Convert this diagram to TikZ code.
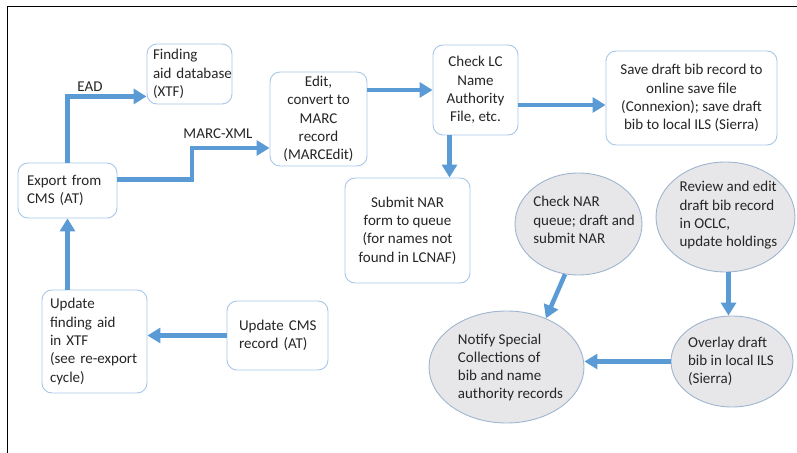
\documentclass[tikz,border=0pt]{standalone}
\usepackage{fontspec}
\setmainfont{Carlito}
\usetikzlibrary{shapes.geometric,arrows.meta}
\definecolor{arrc}{HTML}{5B9BD5}
\definecolor{boxc}{HTML}{A7C7E7}
\definecolor{ellf}{HTML}{E7E7E9}
\definecolor{ellc}{HTML}{9FB4CF}
\definecolor{txtc}{HTML}{262626}
\newcommand\dfont{\fontsize{15bp}{18.3bp}\selectfont}
\tikzset{
  box/.style={draw=boxc, line width=0.9bp, rounded corners=10bp, fill=white, font=\dfont, text=txtc},
  cbox/.style={box, align=center, inner sep=0pt},
  lbox/.style={box, align=left, inner ysep=0pt},
  ell/.style={ellipse, draw=ellc, fill=ellf, line width=0.9bp, inner sep=0pt},
  etext/.style={align=left, font=\dfont, text=txtc, inner sep=0pt},
  lab/.style={font=\dfont, text=txtc, inner sep=0pt},
  arr/.style={draw=arrc, line width=4.5bp, -{Triangle[width=15bp,length=13bp]}},
}
\begin{document}
\begin{tikzpicture}[x=1bp,y=-1bp]
\useasboundingbox (0,0) rectangle (797,453);
\draw[line width=1.5bp] (7.5,460) -- (7.5,6.5) -- (805,6.5);

% boxes
\node[lbox, minimum height=55bp, text width=81bp, inner xsep=9bp] (export) at (67.5,190.5) {Export from\\CMS (AT)};
\node[lbox, minimum height=60bp, text width=73bp, inner xsep=6bp] (finding) at (189.5,74) {Finding\\aid~database\\(XTF)};
\node[cbox, minimum width=97bp, minimum height=94bp] (edit) at (318.5,119) {Edit,\\convert to\\MARC\\record\\(MARCEdit)};
\node[cbox, minimum width=85bp, minimum height=90bp] (check) at (475.5,90) {Check LC\\Name\\Authority\\File, etc.};
\node[cbox, minimum width=171bp, minimum height=94bp] (save) at (691.5,98) {Save draft bib record to\\online save file\\(Connexion); save draft\\bib to local ILS (Sierra)};
\node[cbox, minimum width=125bp, minimum height=105bp] (submit) at (407.5,230.5) {Submit NAR\\form to queue\\(for names not\\found in LCNAF)};
\node[lbox, minimum height=103bp, text width=89bp, inner xsep=8bp] (updfa) at (94.5,341.5) {Update\\finding~aid\\in XTF\\(see~re-export\\cycle)};
\node[lbox, minimum height=69bp, text width=77bp, inner xsep=12bp] (updcms) at (277.5,335.5) {Update~CMS\\record~(AT)};

% ellipses
\node[ell, minimum width=127bp, minimum height=102bp] (nar) at (578.5,224) {};
\node[etext] (nartext) at (584,220) {Check NAR\\queue; draft and\\submit NAR};
\node[ell, minimum width=139bp, minimum height=110bp] (review) at (725.5,217) {};
\node[etext] (reviewtext) at (728.5,215.5) {Review and edit\\draft bib record\\in OCLC,\\update holdings};
\node[ell, minimum width=155bp, minimum height=112bp] (notify) at (506.5,367) {};
\node[etext] (notifytext) at (510.5,367.5) {Notify Special\\Collections of\\bib and name\\authority records};
\node[ell, minimum width=122bp, minimum height=91bp] (overlay) at (732,361.5) {};
\node[etext] (overlaytext) at (731,361.5) {Overlay draft\\bib in local ILS\\(Sierra)};

% labels
\node[lab] (lead) at (90,87) {EAD};
\node[lab] (lmarc) at (218,134) {MARC-XML};

% connectors
\draw[arr] (export.north) |- ([yshift=8bp]finding.south west);
\coordinate (m1) at (192,148);
\draw[arr] ([yshift=11bp]export.east) -| (m1) -- (m1 -| edit.west);
\draw[arr] (edit.east |- check.west) -- (check.west);
\coordinate (c4) at ([yshift=-15bp]check.east);
\draw[arr] (c4) -- (c4 -| save.west);
\coordinate (c5) at ([xshift=-26bp]check.south);
\draw[arr] (c5) -- (c5 |- submit.north);
\draw[arr] (nar.255) -- (notify.51);
\coordinate (c7) at ([xshift=3bp]review.south);
\draw[arr] (c7) -- (c7 |- overlay.north);
\draw[arr] (overlay.west) -- (overlay.west -| notify.east);
\draw[arr] (updcms.west) -- (updcms.west -| updfa.east);
\draw[arr] (updfa.north -| export.south) -- (export.south);
\end{tikzpicture}
\end{document}
